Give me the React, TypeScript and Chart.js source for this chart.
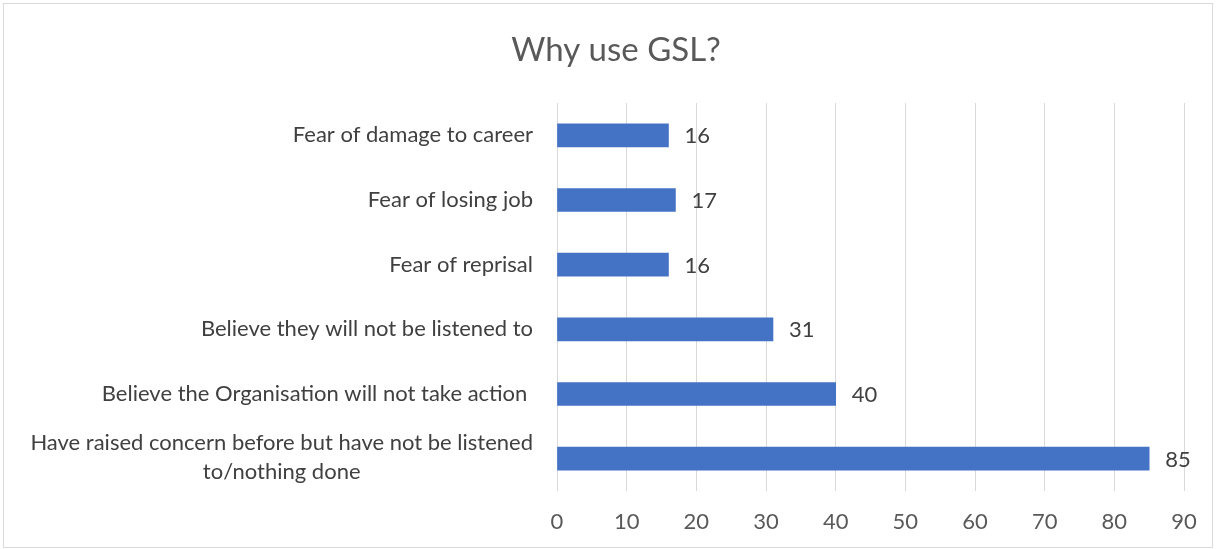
import React, { useEffect, useRef } from "react";
import { Chart, registerables } from "chart.js";

Chart.register(...registerables);

const TITLE = "Why use GSL?";
const categories: (string | string[])[] = [
  "Fear of damage to career",
  "Fear of losing job",
  "Fear of reprisal",
  "Believe they will not be listened to",
  "Believe the Organisation will not take action ",
  ["Have raised concern before but have not be listened", "to/nothing done"],
];
const values = [16, 17, 16, 31, 40, 85];
const xTicksMax = 90;
const xTickStep = 10;

const FONT = "Lato, 'Liberation Sans', sans-serif";

const W = 1216;
const H = 549;

export default function App() {
  const ref = useRef<HTMLCanvasElement | null>(null);

  useEffect(() => {
    document.body.style.margin = "0";
    const canvas = ref.current!;
    const labelPlugin = {
      id: "customLabels",
      afterDraw(chart: any) {
        const ctx = chart.ctx;
        const y = chart.scales.y;
        const meta = chart.getDatasetMeta(0);
        ctx.save();
        // chart border
        ctx.strokeStyle = "#d9d9d9";
        ctx.lineWidth = 1;
        ctx.strokeRect(3.5, 3.5, W - 7, H - 5);
        // title
        ctx.font = `33px ${FONT}`;
        ctx.fillStyle = "#595959";
        ctx.textAlign = "center";
        ctx.textBaseline = "middle";
        ctx.fillText(TITLE, 616, 50);
        // category labels
        ctx.font = `22px ${FONT}`;
        ctx.fillStyle = "#404040";
        ctx.textBaseline = "middle";
        const rightEdge = 533;
        const lineH = 29;
        categories.forEach((lab, i) => {
          const cy = y.getPixelForTick(i);
          const lines = Array.isArray(lab) ? lab : [lab];
          if (lines.length === 1) {
            ctx.textAlign = "right";
            ctx.fillText(lines[0], rightEdge, cy);
          } else {
            const maxW = Math.max(...lines.map((l) => ctx.measureText(l).width));
            const cx = rightEdge - maxW / 2;
            ctx.textAlign = "center";
            lines.forEach((l, j) => {
              ctx.fillText(l, cx, cy + (j - (lines.length - 1) / 2) * lineH - 1);
            });
          }
        });
        // value labels
        ctx.textAlign = "left";
        meta.data.forEach((bar: any, i: number) => {
          ctx.fillText(String(values[i]), bar.x + 16, bar.y + 1);
        });
        ctx.restore();
      },
    };

    const chart = new Chart(canvas, {
      type: "bar",
      data: {
        labels: categories as any,
        datasets: [
          {
            data: values,
            backgroundColor: "#4472C4",
            borderWidth: 0,
            barThickness: 23,
          },
        ],
      },
      options: {
        indexAxis: "y",
        responsive: false,
        animation: false,
        layout: { padding: { left: 0, right: 32, top: 103, bottom: 0 } },
        plugins: {
          legend: { display: false },
          tooltip: { enabled: false },
          title: { display: false },
        },
        scales: {
          x: {
            min: 0,
            max: xTicksMax,
            ticks: {
              stepSize: xTickStep,
              color: "#595959",
              font: { family: FONT, size: 22 },
              padding: 18,
            },
            grid: { color: "#d9d9d9", drawTicks: false, lineWidth: 1 },
            border: { display: false },
            afterFit: (s: any) => {
              s.height = 58;
            },
          },
          y: {
            ticks: { display: false },
            grid: { display: false },
            border: { display: false },
            afterFit: (s: any) => {
              s.width = 557;
            },
          },
        },
      },
      plugins: [labelPlugin],
    });
    return () => chart.destroy();
  }, []);

  return (
    <div style={{ width: W, height: H, background: "#fff" }}>
      <canvas ref={ref} width={W} height={H} style={{ display: "block" }} />
    </div>
  );
}
